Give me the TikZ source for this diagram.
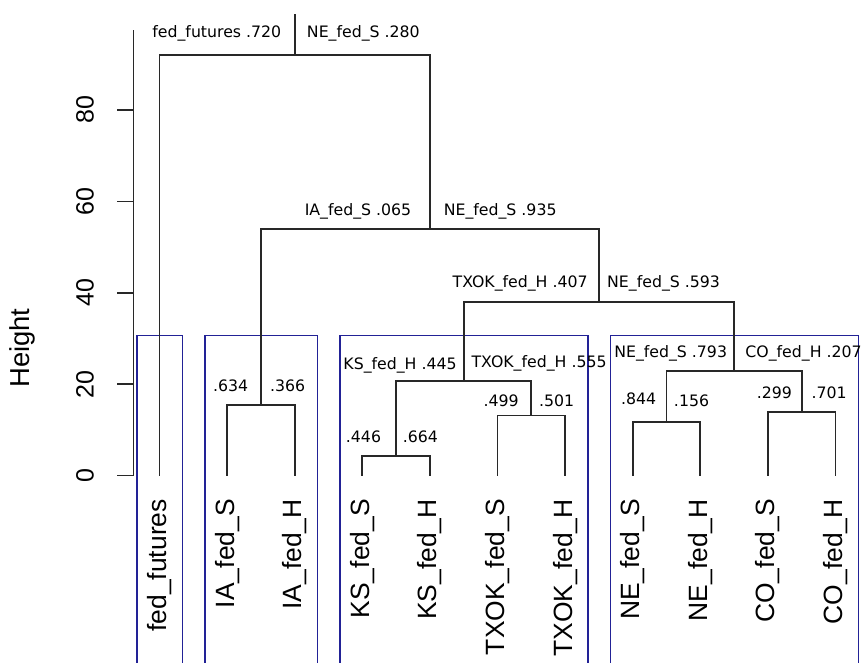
\documentclass[tikz,border=0pt]{standalone}
\usepackage{fontspec}
\setmainfont{Liberation Sans}
\newfontfamily\lblfont{DejaVu Sans}
\usepackage{tikz}
\usetikzlibrary{positioning,calc}
\definecolor{clustblue}{RGB}{34,34,150}
\definecolor{treegray}{RGB}{40,40,40}
\tikzset{
  tree/.style    ={line width=1.2pt,treegray},
  axisline/.style={line width=1.1pt,treegray},
  clbox/.style   ={line width=1pt,clustblue},
  leaflbl/.style ={rotate=90,anchor=east,inner sep=0pt,font=\fontsize{18.8}{20}\selectfont},
  ticklbl/.style ={rotate=90,inner sep=0pt,font=\fontsize{17.8}{20}\selectfont},
  axtitle/.style ={rotate=90,inner sep=0pt,font=\fontsize{19.5}{21}\selectfont},
  lbl/.style     ={inner sep=0pt,text depth=0pt,font=\lblfont\fontsize{11.2}{13}\selectfont},
}

\begin{document}
\begin{tikzpicture}[x=1.69cm,y=0.11423cm]
  \useasboundingbox (-2.3595,-40.82) rectangle (10.377,104.07);
  % cluster boxes, open at the bottom
  \foreach \a/\b in {0/0,1/2,3/6,7/10}
    \draw[clbox] (\a-0.33,-45) |- (\b+0.34,30.6) -- (\b+0.34,-45);
  % leaves
  \foreach \name [count=\i from 0] in {fed\_futures,IA\_fed\_S,IA\_fed\_H,KS\_fed\_S,KS\_fed\_H,
      TXOK\_fed\_S,TXOK\_fed\_H,NE\_fed\_S,NE\_fed\_H,CO\_fed\_S,CO\_fed\_H} {
    \coordinate (l\i) at (\i,0);
    \node[leaflbl] (t\i) at (\i,-5.14) {\name};
  }
  % merge points (x = mid of children, y = height)
  \coordinate (mKS)  at (3.5,4.27);
  \coordinate (mIA)  at (1.5,15.36);
  \coordinate (mTX)  at (5.5,13.13);
  \coordinate (mNE)  at (7.5,11.71);
  \coordinate (mCO)  at (9.5,13.90);
  \coordinate (mKT)  at (4.5,20.68);
  \coordinate (mNC)  at (8.5,22.87);
  \coordinate (mMid) at (6.5,37.91);
  \coordinate (mIR)  at (4.0,53.95);
  \coordinate (mTop) at (2.0,92.03);
  \coordinate (root) at (2.0,101.0);
  \draw[tree] (l3) |- (mKS) -| (l4);
  \draw[tree] (l1) |- (mIA) -| (l2);
  \draw[tree] (l5) |- (mTX) -| (l6);
  \draw[tree] (l7) |- (mNE) -| (l8);
  \draw[tree] (l9) |- (mCO) -| (l10);
  \draw[tree] (mKS) |- (mKT) -| (mTX);
  \draw[tree] (mNE) |- (mNC) -| (mCO);
  \draw[tree] (mKT) |- (mMid) -| (mNC);
  \draw[tree] (mIA) |- (mIR) -| (mMid);
  \draw[tree] (l0) |- (mTop) -| (mIR);
  \draw[tree] (mTop) -- (root);
  % height axis
  \coordinate (a0)   at (-0.388,0);
  \coordinate (aTop) at (-0.388,97.4);
  \draw[axisline] (a0) -- (aTop);
  \foreach \v in {0,20,...,80} {
    \draw[axisline] (-0.388,\v) -- ++(-4mm,0);
    \node[ticklbl] (y\v) at (-1.102,\v) {\v};
  }
  \node[axtitle] (ylab) at (-2.034,27.9) {Height};
  % split labels
  \node[lbl,above left=4.25mm and 3.3mm of mTop]  (pTopL) {fed\_futures .720};
  \node[lbl,above right=4.25mm and 3mm of mTop]   (pTopR) {NE\_fed\_S .280};
  \node[lbl,above left=3.25mm and 4.6mm of mIR]   (pIRL)  {IA\_fed\_S .065};
  \node[lbl,above right=3.25mm and 3.4mm of mIR]  (pIRR)  {NE\_fed\_S .935};
  \node[lbl,above left=3.75mm and 2.75mm of mMid] (pMidL) {TXOK\_fed\_H .407};
  \node[lbl,above right=3.75mm and 2mm of mMid]   (pMidR) {NE\_fed\_S .593};
  \node[lbl,above left=2.9mm and 1.7mm of mKT]    (pKTL)  {KS\_fed\_H .445};
  \node[lbl,above right=3.3mm and 1.9mm of mKT]   (pKTR)  {TXOK\_fed\_H .555};
  \node[lbl,above left=3.3mm and 1.7mm of mNC]    (pNCL)  {NE\_fed\_S .793};
  \node[lbl,above right=3.3mm and 2.75mm of mNC]  (pNCR)  {CO\_fed\_H .207};
  \node[lbl,above left=3.4mm and 3.1mm of mIA]    (pIAL)  {.634};
  \node[lbl,above right=3.4mm and 2.25mm of mIA]  (pIAR)  {.366};
  \node[lbl,above left=3.3mm and 3.7mm of mKS]    (pKSL)  {.446};
  \node[lbl,above right=3.3mm and 1.6mm of mKS]   (pKSR)  {.664};
  \node[lbl,above left=2.2mm and 3.1mm of mTX]    (pTXL)  {.499};
  \node[lbl,above right=2.2mm and 1.9mm of mTX]   (pTXR)  {.501};
  \node[lbl,above left=4.25mm and 2.5mm of mNE]   (pNEL)  {.844};
  \node[lbl,above right=3.7mm and 1.8mm of mNE]   (pNER)  {.156};
  \node[lbl,above left=3.2mm and 2.4mm of mCO]    (pCOL)  {.299};
  \node[lbl,above right=3.2mm and 2.4mm of mCO]   (pCOR)  {.701};
\end{tikzpicture}
\end{document}
